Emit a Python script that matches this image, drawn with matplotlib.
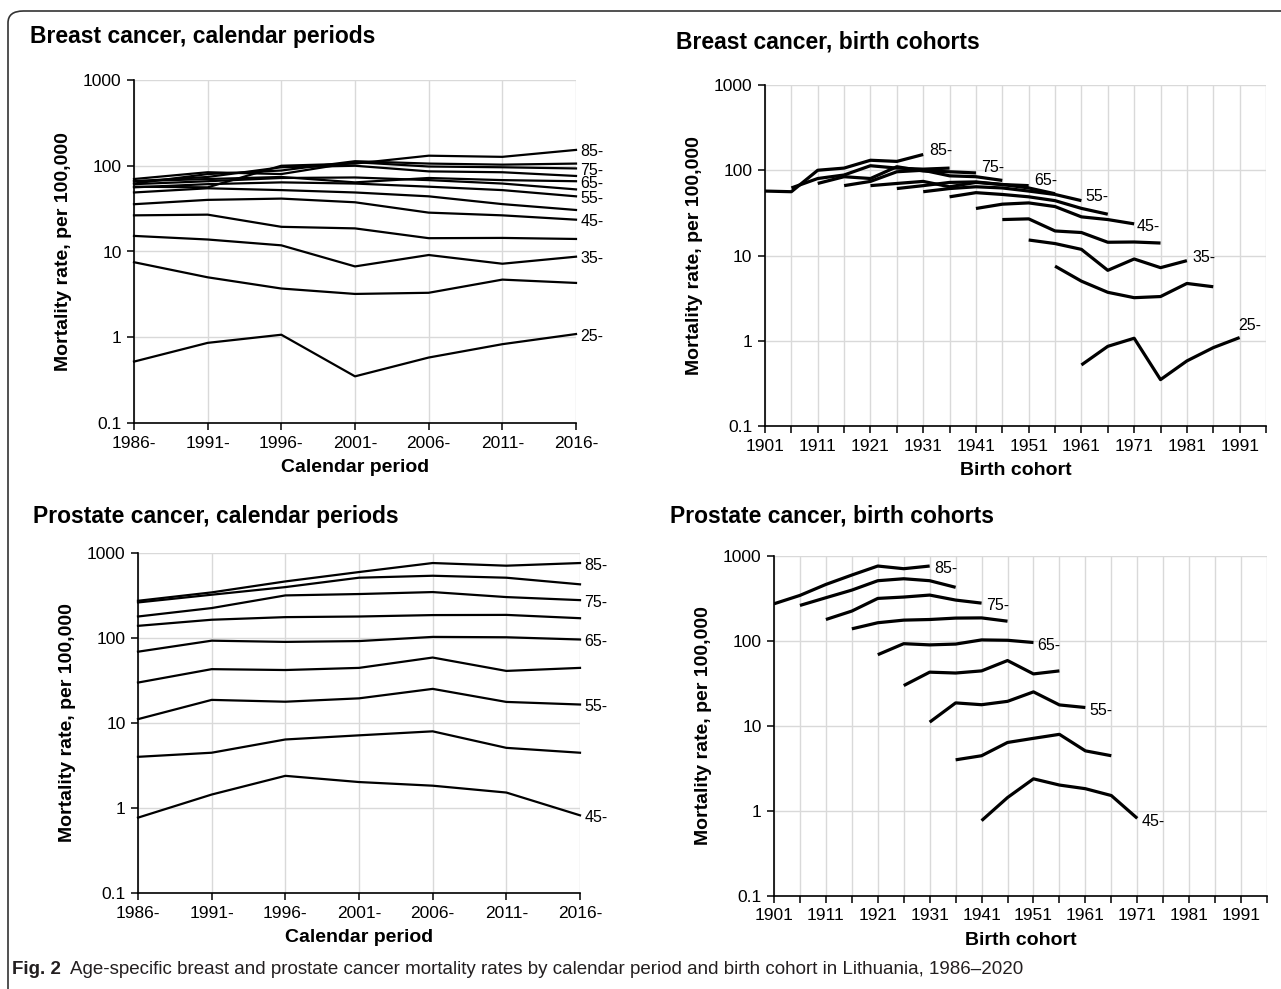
"""Age-specific breast and prostate cancer mortality, Lithuania 1986-2020.

Four panels: rates by calendar period (left) and by birth cohort (right).
Birth cohort = start of period - start of age group.
"""
import matplotlib
matplotlib.use("Agg")
import matplotlib.pyplot as plt
from matplotlib.patches import FancyBboxPatch

plt.rcParams["font.family"] = ["Liberation Sans", "DejaVu Sans"]

# --- data (rates per 100,000) ---
PERIODS = [1986, 1991, 1996, 2001, 2006, 2011, 2016]
PERIOD_LABELS = ["1986-", "1991-", "1996-", "2001-", "2006-", "2011-", "2016-"]
COHORT_TICKS = list(range(1901, 1997, 5))
COHORT_LABELS = [str(y) if (y - 1901) % 10 == 0 else "" for y in COHORT_TICKS]

BREAST_AGES = [25, 30, 35, 40, 45, 50, 55, 60, 65, 70, 75, 80, 85]
BREAST_RATES = [
    [0.52, 0.86, 1.07, 0.35, 0.58, 0.83, 1.09],
    [7.5, 5.0, 3.7, 3.2, 3.3, 4.7, 4.3],
    [15.2, 13.8, 11.8, 6.7, 9.1, 7.2, 8.7],
    [26.4, 26.9, 19.4, 18.6, 14.3, 14.4, 14.0],
    [35.6, 40.0, 41.4, 37.5, 28.4, 26.4, 23.5],
    [48.8, 54.6, 52.0, 48.8, 44.0, 35.7, 30.5],
    [56, 61, 64, 62, 57, 52, 44],
    [61, 66, 72, 73, 68, 62, 53],
    [66, 70, 74, 64, 72, 68, 66],
    [66, 74, 96, 100, 86, 84, 76],
    [70, 84, 80, 110, 98, 96, 93],
    [62, 80, 88, 113, 106, 103, 106],
    [57, 56, 100, 106, 131, 127, 153],
]
BREAST_LABELLED = [25, 35, 45, 55, 65, 75, 85]

PROSTATE_AGES = [45, 50, 55, 60, 65, 70, 75, 80, 85]
PROSTATE_RATES = [
    [0.77, 1.44, 2.39, 2.02, 1.83, 1.52, 0.82],
    [4.0, 4.47, 6.4, 7.16, 7.98, 5.1, 4.47],
    [11.1, 18.7, 17.8, 19.5, 25.2, 17.7, 16.5],
    [29.9, 43, 42, 44.5, 58.9, 41, 44.5],
    [69, 93, 90, 92, 103, 102, 96],
    [139, 164, 176, 179, 186, 187, 171],
    [179, 225, 317, 329, 347, 303, 279],
    [262, 323, 397, 512, 540, 512, 428],
    [274, 344, 463, 597, 762, 709, 762],
]
PROSTATE_LABELLED = [45, 55, 65, 75, 85]

W, H = 1281, 989
GRID = "#d9d9d9"
TICK_FS = 12.5
LAB_FS = 14
TITLE_FS = 16.5


def px_axes(fig, x0, y0, x1, y1):
    """Axes from pixel box (top-left origin)."""
    return fig.add_axes([x0 / W, 1 - y1 / H, (x1 - x0) / W, (y1 - y0) / H])


def style_axes(ax):
    ax.set_yscale("log")
    ax.set_ylim(0.1, 1000)
    ax.set_yticks([0.1, 1, 10, 100, 1000])
    ax.set_yticklabels(["0.1", "1", "10", "100", "1000"])
    ax.minorticks_off()
    ax.grid(True, color=GRID, lw=1.0, zorder=0)
    for s in ("top", "right"):
        ax.spines[s].set_visible(False)
    for s in ("left", "bottom"):
        ax.spines[s].set_linewidth(1.2)
        ax.spines[s].set_zorder(3)
    ax.tick_params(direction="out", length=5, width=1.1, labelsize=TICK_FS, pad=4)
    ax.set_ylabel("Mortality rate, per 100,000", fontsize=LAB_FS, fontweight="bold",
                  labelpad=8)


def period_panel(ax, ages, rates, labelled):
    style_axes(ax)
    for age, r in zip(ages, rates):
        ax.plot(PERIODS, r, color="black", lw=1.6, zorder=2, clip_on=False)
        if age in labelled:
            ax.annotate(f"{age}-", xy=(PERIODS[-1], r[-1]), xytext=(3, -1.5),
                        textcoords="offset points", ha="left", va="center",
                        fontsize=11.5, annotation_clip=False)
    ax.set_xlim(PERIODS[0], PERIODS[-1])
    ax.set_xticks(PERIODS)
    ax.set_xticklabels(PERIOD_LABELS)
    ax.set_xlabel("Calendar period", fontsize=LAB_FS, fontweight="bold", labelpad=6)


def cohort_panel(ax, ages, rates, labelled, offsets):
    style_axes(ax)
    for age, r in zip(ages, rates):
        cohorts = [p - age for p in PERIODS]
        ax.plot(cohorts, r, color="black", lw=2.3, zorder=2, solid_capstyle="butt")
        if age in labelled:
            dx, dy = offsets.get(age, (3, -2))
            ax.annotate(f"{age}-", xy=(cohorts[-1], r[-1]), xytext=(dx, dy),
                        textcoords="offset points", ha="left", va="center",
                        fontsize=11.5, annotation_clip=False)
    ax.set_xlim(COHORT_TICKS[0], COHORT_TICKS[-1])
    ax.set_xticks(COHORT_TICKS)
    ax.set_xticklabels(COHORT_LABELS)
    ax.set_xlabel("Birth cohort", fontsize=LAB_FS, fontweight="bold", labelpad=6)


fig = plt.figure(figsize=(W / 100, H / 100), dpi=100)

# frame: left and top edges with a rounded corner, running off the figure
frame = FancyBboxPatch((8 / W, -0.05), 1.1, 1 - 11 / H + 0.05,
                       boxstyle="round,pad=0,rounding_size=0.012",
                       transform=fig.transFigure, fill=False, ec="#333333", lw=1.2)
fig.patches.append(frame)

ax1 = px_axes(fig, 134, 80, 576, 423)
period_panel(ax1, BREAST_AGES, BREAST_RATES, BREAST_LABELLED)

ax2 = px_axes(fig, 765, 85, 1266, 426)
cohort_panel(ax2, BREAST_AGES, BREAST_RATES, BREAST_LABELLED,
             {85: (4, 3), 75: (4, 4), 65: (4, 4), 55: (3, 3),
              45: (2, -2), 35: (4, 2), 25: (-1, 9)})

ax3 = px_axes(fig, 138, 553, 580, 893)
period_panel(ax3, PROSTATE_AGES, PROSTATE_RATES, PROSTATE_LABELLED)

ax4 = px_axes(fig, 774, 556, 1267, 896)
cohort_panel(ax4, PROSTATE_AGES, PROSTATE_RATES, PROSTATE_LABELLED, {})

# panel titles
titles = [
    (30, 37, "Breast cancer, calendar periods"),
    (676, 42, "Breast cancer, birth cohorts"),
    (33, 516, "Prostate cancer, calendar periods"),
    (670, 516, "Prostate cancer, birth cohorts"),
]
for x, y, t in titles:
    fig.text(x / W, 1 - y / H, t, fontsize=TITLE_FS, fontweight="bold",
             ha="left", va="center")

# caption
fig.text(12 / W, 1 - 970 / H, "Fig. 2", fontsize=13.5, fontweight="bold",
         ha="left", va="center", color="#231f20")
fig.text(70 / W, 1 - 970 / H,
         "Age-specific breast and prostate cancer mortality rates by calendar "
         "period and birth cohort in Lithuania, 1986\u20132020",
         fontsize=13.5, ha="left", va="center", color="#231f20")

fig.savefig("out.png", dpi=100)
